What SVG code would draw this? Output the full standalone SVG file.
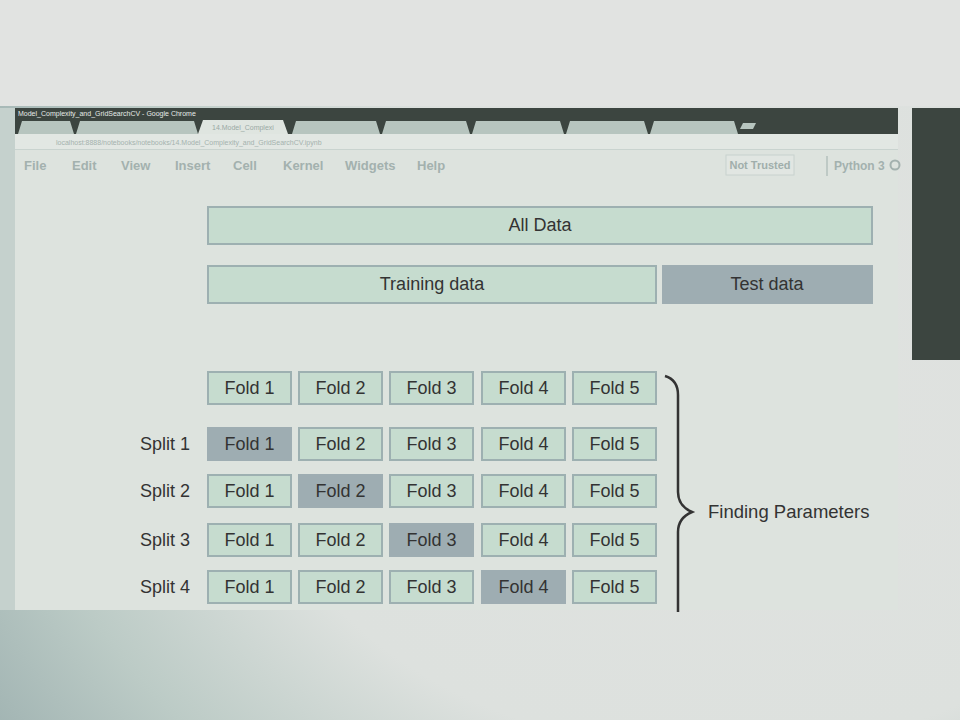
<svg xmlns="http://www.w3.org/2000/svg" width="960" height="720" viewBox="0 0 960 720">
<defs>
<radialGradient id="desk" cx="0.75" cy="0.55" r="0.9">
<stop offset="0" stop-color="#e0e2e0"/>
<stop offset="0.55" stop-color="#dde1de"/>
<stop offset="0.8" stop-color="#bccbc6"/>
<stop offset="1" stop-color="#9fb2b1"/>
</radialGradient>
<style>
.box{fill:#c6dccf;stroke:#9db0b1;stroke-width:2}
.sel{fill:#9eadb2;stroke:#9eadb2;stroke-width:2}
.t{font-family:"Liberation Sans",Arial,sans-serif;font-size:18px;fill:#333;text-anchor:middle}
.lbl{font-family:"Liberation Sans",Arial,sans-serif;font-size:18px;fill:#333;text-anchor:end}
.menu{font-family:"Liberation Sans",Arial,sans-serif;font-size:13px;font-weight:bold;fill:#a3b1ae}
.tab{fill:#b7c5bf}
</style>
</defs>
<rect width="960" height="720" fill="url(#desk)"/>
<rect x="0" y="0" width="960" height="106" fill="#e1e3e1"/>
<!-- right dark panel -->
<rect x="912" y="108" width="48" height="252" fill="#3c4540"/>
<!-- browser window -->
<g id="browser">
<rect x="0" y="108" width="16" height="502" fill="#c5d1cd"/>
<rect x="15" y="108" width="883" height="502" fill="#dde3de"/>
<rect x="15" y="108" width="883" height="26" fill="#3c4540"/>
<text x="18" y="116" font-family="Liberation Sans,Arial,sans-serif" font-size="7" fill="#e6ebe8">Model_Complexity_and_GridSearchCV - Google Chrome</text>
<path class="tab" d="M18 134 L22 121 L70 121 L74 134 Z M76 134 L80 121 L194 121 L198 134 Z M292 134 L296 121 L376 121 L380 134 Z M382 134 L386 121 L466 121 L470 134 Z M472 134 L476 121 L560 121 L564 134 Z M566 134 L570 121 L644 121 L648 134 Z M650 134 L654 121 L734 121 L738 134 Z"/>
<path d="M198 134 L203 120 L283 120 L288 134 Z" fill="#dfe5e0"/>
<text x="212" y="130" font-family="Liberation Sans,Arial,sans-serif" font-size="7" fill="#9aa9a5">14.Model_Complexi</text>
<path d="M740 129 L743 123 L756 123 L753 129 Z" fill="#b7c5bf"/>
<rect x="15" y="134" width="883" height="15" fill="#e2e7e3"/>
<text x="56" y="145" font-family="Liberation Sans,Arial,sans-serif" font-size="7" fill="#a4b2ae">localhost:8888/notebooks/notebooks/14.Model_Complexity_and_GridSearchCV.ipynb</text>
<line x1="15" y1="149.5" x2="898" y2="149.5" stroke="#c9d3cf"/>
<text class="menu" x="24" y="170">File</text>
<text class="menu" x="72" y="170">Edit</text>
<text class="menu" x="121" y="170">View</text>
<text class="menu" x="175" y="170">Insert</text>
<text class="menu" x="233" y="170">Cell</text>
<text class="menu" x="283" y="170">Kernel</text>
<text class="menu" x="345" y="170">Widgets</text>
<text class="menu" x="417" y="170">Help</text>
<rect x="726" y="155" width="68" height="20" fill="#e1e6e2" stroke="#c8d2ce"/>
<text x="760" y="169" font-family="Liberation Sans,Arial,sans-serif" font-size="11" font-weight="bold" fill="#a0aeab" text-anchor="middle">Not Trusted</text>
<line x1="827" y1="156" x2="827" y2="176" stroke="#b3c0bc" stroke-width="1.5"/>
<text class="menu" x="834" y="170" font-size="12" style="font-size:12px">Python 3</text>
<circle cx="895" cy="165" r="4.5" fill="none" stroke="#a3b1ae" stroke-width="2"/>
</g>
<g id="all-data"><rect class="box" x="208" y="207" width="664" height="37"/><text class="t" x="540" y="231">All Data</text></g>
<g id="training-data"><rect class="box" x="208" y="266" width="448" height="37"/><text class="t" x="432" y="290">Training data</text></g>
<g id="test-data"><rect class="sel" x="663" y="266" width="209" height="37"/><text class="t" x="767" y="290">Test data</text></g>
<g id="row0">
<rect class="box" x="208" y="372" width="83" height="32"/><text class="t" x="249.5" y="394">Fold 1</text>
<rect class="box" x="299" y="372" width="83" height="32"/><text class="t" x="340.5" y="394">Fold 2</text>
<rect class="box" x="390" y="372" width="83" height="32"/><text class="t" x="431.5" y="394">Fold 3</text>
<rect class="box" x="482" y="372" width="83" height="32"/><text class="t" x="523.5" y="394">Fold 4</text>
<rect class="box" x="573" y="372" width="83" height="32"/><text class="t" x="614.5" y="394">Fold 5</text>
</g>
<g id="split1">
<text class="lbl" x="190" y="450">Split 1</text>
<rect class="sel" x="208" y="428" width="83" height="32"/><text class="t" x="249.5" y="450">Fold 1</text>
<rect class="box" x="299" y="428" width="83" height="32"/><text class="t" x="340.5" y="450">Fold 2</text>
<rect class="box" x="390" y="428" width="83" height="32"/><text class="t" x="431.5" y="450">Fold 3</text>
<rect class="box" x="482" y="428" width="83" height="32"/><text class="t" x="523.5" y="450">Fold 4</text>
<rect class="box" x="573" y="428" width="83" height="32"/><text class="t" x="614.5" y="450">Fold 5</text>
</g>
<g id="split2">
<text class="lbl" x="190" y="497">Split 2</text>
<rect class="box" x="208" y="475" width="83" height="32"/><text class="t" x="249.5" y="497">Fold 1</text>
<rect class="sel" x="299" y="475" width="83" height="32"/><text class="t" x="340.5" y="497">Fold 2</text>
<rect class="box" x="390" y="475" width="83" height="32"/><text class="t" x="431.5" y="497">Fold 3</text>
<rect class="box" x="482" y="475" width="83" height="32"/><text class="t" x="523.5" y="497">Fold 4</text>
<rect class="box" x="573" y="475" width="83" height="32"/><text class="t" x="614.5" y="497">Fold 5</text>
</g>
<g id="split3">
<text class="lbl" x="190" y="546">Split 3</text>
<rect class="box" x="208" y="524" width="83" height="32"/><text class="t" x="249.5" y="546">Fold 1</text>
<rect class="box" x="299" y="524" width="83" height="32"/><text class="t" x="340.5" y="546">Fold 2</text>
<rect class="sel" x="390" y="524" width="83" height="32"/><text class="t" x="431.5" y="546">Fold 3</text>
<rect class="box" x="482" y="524" width="83" height="32"/><text class="t" x="523.5" y="546">Fold 4</text>
<rect class="box" x="573" y="524" width="83" height="32"/><text class="t" x="614.5" y="546">Fold 5</text>
</g>
<g id="split4">
<text class="lbl" x="190" y="593">Split 4</text>
<rect class="box" x="208" y="571" width="83" height="32"/><text class="t" x="249.5" y="593">Fold 1</text>
<rect class="box" x="299" y="571" width="83" height="32"/><text class="t" x="340.5" y="593">Fold 2</text>
<rect class="box" x="390" y="571" width="83" height="32"/><text class="t" x="431.5" y="593">Fold 3</text>
<rect class="sel" x="482" y="571" width="83" height="32"/><text class="t" x="523.5" y="593">Fold 4</text>
<rect class="box" x="573" y="571" width="83" height="32"/><text class="t" x="614.5" y="593">Fold 5</text>
</g>
<g id="connectors">
<path d="M665 376 Q678 380 678 395 L678 492 Q678 506 692 512 Q678 518 678 532 L678 612" fill="none" stroke="#333" stroke-width="2.5"/>
</g>
<g id="finding-parameters"><text x="708" y="518" font-family="Liberation Sans,Arial,sans-serif" font-size="18.5" fill="#333">Finding Parameters</text></g>
</svg>
